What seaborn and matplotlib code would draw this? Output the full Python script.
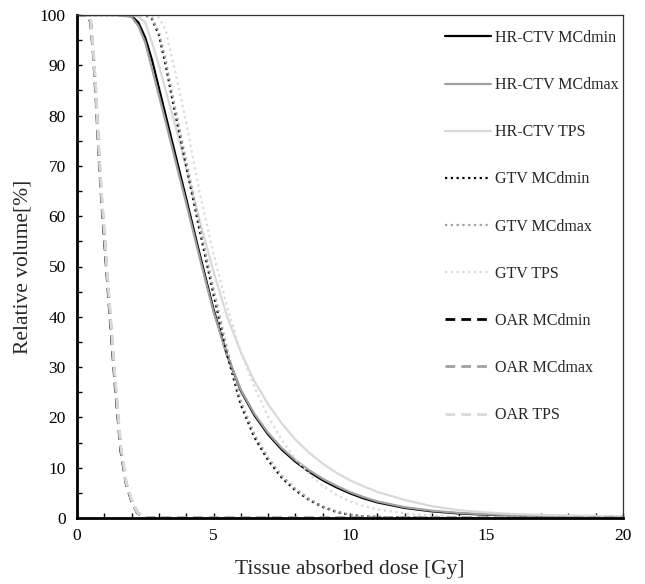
import numpy as np
import pandas as pd
import seaborn as sns
import matplotlib.pyplot as plt
from matplotlib.ticker import MultipleLocator

# Dose grid [Gy] for the target volumes (HR-CTV, GTV)
dose = [0, 1.0, 1.5, 2.0, 2.25, 2.5, 2.75, 3.0, 3.25, 3.5, 3.75, 4.0, 4.5, 5.0,
        5.5, 6.0, 6.5, 7.0, 7.5, 8.0, 8.5, 9.0, 9.5, 10, 10.5, 11, 12, 13, 14,
        15, 16, 17, 18, 19, 20]

# Relative volume [%]
hrctv_mcdmin = [100, 100, 100, 99.8, 98.5, 95.5, 91, 85.5, 80, 74.5, 69, 63.5,
                52.3, 41.5, 32.3, 25.3, 20.4, 16.6, 13.6, 11.2, 9.2, 7.5, 6.1,
                4.9, 3.9, 3.1, 2.0, 1.32, 0.9, 0.65, 0.5, 0.4, 0.32, 0.26, 0.22]
hrctv_mcdmax = [100, 100, 100, 99.6, 97.8, 94.5, 89.3, 84, 78.7, 73.3, 67.9, 62.6,
                51.6, 41, 32.3, 25.5, 20.7, 16.9, 13.9, 11.5, 9.5, 7.8, 6.4,
                5.15, 4.15, 3.3, 2.15, 1.45, 1.0, 0.72, 0.55, 0.44, 0.35, 0.28, 0.24]
hrctv_tps = [100, 100, 100, 100, 99.7, 98.5, 94.5, 90, 85, 80, 75, 69.5,
             59, 49, 40, 33, 27.2, 22.6, 18.8, 15.6, 13.0, 10.8, 9.0,
             7.5, 6.3, 5.2, 3.6, 2.35, 1.55, 1.1, 0.8, 0.62, 0.5, 0.42, 0.36]
gtv_mcdmin = [100, 100, 100, 100, 100, 100, 99.2, 96, 90, 83, 76.5, 70,
              57, 44.5, 32.5, 22.5, 16, 11.5, 8.0, 5.5, 3.6, 2.2, 1.2,
              0.6, 0.35, 0.2, 0.08, 0.03, 0, 0, 0, 0, 0, 0, 0]
gtv_mcdmax = [100, 100, 100, 100, 100, 100, 99.4, 96.6, 91, 84, 77.5, 71,
              58, 45.5, 33.5, 23.3, 16.6, 12.0, 8.4, 5.8, 3.8, 2.35, 1.3,
              0.65, 0.38, 0.22, 0.09, 0.03, 0, 0, 0, 0, 0, 0, 0]
gtv_tps = [100, 100, 100, 100, 100, 100, 100, 99.5, 97, 91, 85, 78.5,
           64.5, 52.5, 42, 33, 26, 20.2, 15.5, 11.8, 8.8, 6.4, 4.6,
           3.3, 2.4, 1.7, 0.9, 0.45, 0.2, 0.1, 0.05, 0, 0, 0, 0]

# Dose grid [Gy] for the organ at risk
dose_oar = [0, 0.4, 0.5, 0.6, 0.7, 0.8, 0.9, 1.0, 1.2, 1.4, 1.6, 1.8, 2.0,
            2.2, 2.4, 2.6, 5, 10, 15, 20]
oar_mcdmin = [100, 100, 98.5, 92, 83, 72, 63, 55.5, 40.5, 26, 13.5, 6.8, 3.3,
              1.1, 0.3, 0, 0, 0, 0, 0]
oar_mcdmax = [100, 100, 98.8, 92.5, 84, 73, 64, 56.5, 41.5, 27, 14, 7.0, 3.5,
              1.2, 0.3, 0, 0, 0, 0, 0]
oar_tps = [100, 100, 99, 93, 84.5, 73.5, 64.5, 57, 42, 27.5, 14.5, 7.2, 3.6,
           1.2, 0.3, 0, 0, 0, 0, 0]

labels = ["HR-CTV MCdmin", "HR-CTV MCdmax", "HR-CTV TPS",
          "GTV MCdmin", "GTV MCdmax", "GTV TPS",
          "OAR MCdmin", "OAR MCdmax", "OAR TPS"]
doses = [dose] * 6 + [dose_oar] * 3
volumes = [hrctv_mcdmin, hrctv_mcdmax, hrctv_tps,
           gtv_mcdmin, gtv_mcdmax, gtv_tps,
           oar_mcdmin, oar_mcdmax, oar_tps]

# table lunga per seaborn
frames = []
for lab, d, v in zip(labels, doses, volumes):
    frames.append(pd.DataFrame({"dose": d, "volume": v, "curve": lab}))
df = pd.concat(frames, ignore_index=True)

colori = ["#000000", "#a0a0a0", "#d9d9d9"] * 3
stili = ["-"] * 3 + [(0, (1, 1.6))] * 3 + [(0, (3.5, 2.2))] * 3
spessori = [1.6] * 3 + [1.6] * 3 + [2.0] * 3

sns.set_style("ticks")
plt.rcParams["font.family"] = ["Liberation Serif", "DejaVu Serif"]

fig = plt.figure(figsize=(6.45, 5.84), dpi=100)
ax = fig.add_axes([77 / 645, 1 - 518 / 584, 546 / 645, 503 / 584])

for lab, c, ls, lw in zip(labels, colori, stili, spessori):
    sns.lineplot(data=df[df["curve"] == lab], x="dose", y="volume",
                 estimator=None, color=c, linestyle=ls, linewidth=lw,
                 label=lab, ax=ax)

ax.set_xlim(0, 20)
ax.set_ylim(0, 100)
ax.xaxis.set_major_locator(MultipleLocator(5))
ax.xaxis.set_minor_locator(MultipleLocator(1))
ax.yaxis.set_major_locator(MultipleLocator(10))
ax.yaxis.set_minor_locator(MultipleLocator(5))
ax.tick_params(axis="both", which="both", direction="in", length=3.5,
               width=1, colors="black", labelsize=12.5)
ax.tick_params(axis="x", pad=7)
ax.tick_params(axis="y", pad=8)

for s in ["left", "bottom"]:
    ax.spines[s].set_linewidth(2)
    ax.spines[s].set_color("black")
for s in ["top", "right"]:
    ax.spines[s].set_linewidth(0.9)
    ax.spines[s].set_color("#333333")

ax.set_xlabel("Tissue absorbed dose [Gy]", fontsize=15.5, labelpad=12)
ax.set_ylabel("Relative volume[%]", fontsize=15.5, labelpad=5)

leg = ax.legend(loc="upper left", bbox_to_anchor=(445 / 645, 1 - 30 / 584),
                bbox_transform=fig.transFigure, frameon=False, fontsize=11.5,
                handlelength=2.9, handletextpad=0.25, labelspacing=1.95,
                borderpad=0, borderaxespad=0)

plt.savefig("out.png", dpi=100)
